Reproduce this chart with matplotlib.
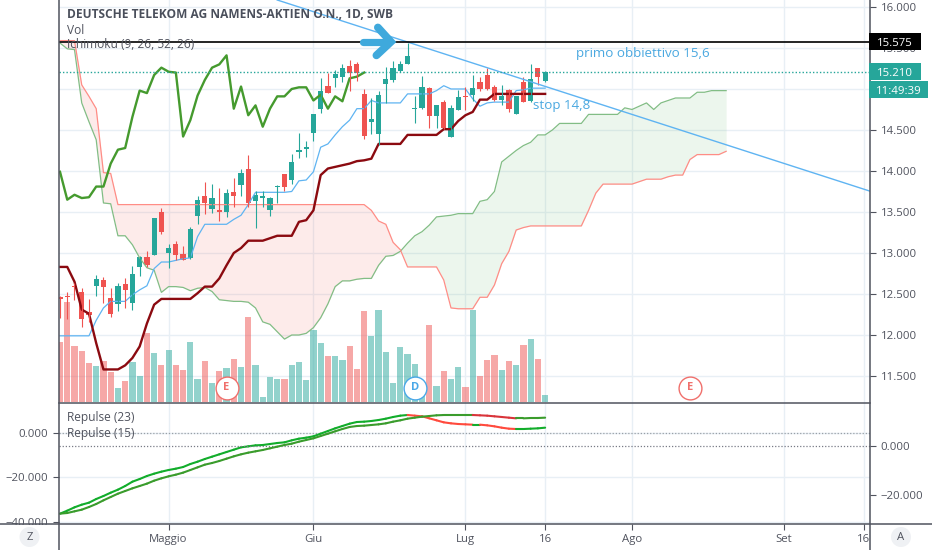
import matplotlib
matplotlib.use('Agg')
import matplotlib.pyplot as plt
from matplotlib.patches import Rectangle, Ellipse
from matplotlib.lines import Line2D

plt.rcParams['font.family'] = ['Open Sans', 'DejaVu Sans']

# daily candles
opens = [12.46, 12.48, 12.60, 12.52, 12.28, 12.60, 12.67, 12.45, 12.38, 12.62, 12.39, 12.83, 12.95, 12.98, 13.50, 13.00, 13.11,
         12.99, 12.94, 13.45, 13.69, 13.54, 13.52, 13.50, 13.74, 13.83, 14.02, 13.64, 13.67, 13.52, 13.80, 13.96, 13.89, 14.23,
         14.27, 14.46, 14.76, 15.04, 15.13, 15.14, 15.28, 15.30, 14.94, 14.60, 14.45, 15.06, 15.11, 15.22, 15.31, 14.75, 14.77,
         15.01, 14.67, 14.84, 14.42, 14.74, 14.91, 14.93, 15.08, 15.17, 15.02, 14.86, 14.99, 14.70, 15.09, 14.85, 15.25, 15.10]
highs = [12.47, 12.52, 12.63, 12.57, 12.44, 12.73, 12.71, 12.57, 12.63, 12.70, 12.84, 12.96, 13.03, 13.43, 13.55, 13.11, 13.15,
         13.09, 13.32, 13.70, 13.86, 13.84, 13.79, 13.78, 13.92, 14.02, 14.19, 13.75, 13.75, 13.68, 13.83, 13.96, 14.21, 14.46,
         14.36, 14.69, 15.13, 15.20, 15.23, 15.31, 15.35, 15.33, 15.00, 14.89, 14.97, 15.27, 15.34, 15.34, 15.56, 14.91, 15.16,
         15.02, 14.80, 14.87, 14.80, 14.99, 15.03, 15.17, 15.14, 15.25, 15.05, 15.05, 15.00, 14.91, 15.15, 15.31, 15.26, 15.22]
lows = [12.21, 12.19, 12.43, 12.10, 12.16, 12.47, 12.39, 12.22, 12.29, 12.33, 12.31, 12.72, 12.83, 12.98, 13.23, 12.82, 12.92,
        12.91, 12.93, 13.35, 13.48, 13.49, 13.39, 13.44, 13.56, 13.69, 13.56, 13.30, 13.56, 13.45, 13.61, 13.76, 13.84, 14.16,
        14.17, 14.37, 14.71, 14.95, 15.03, 15.08, 14.98, 15.10, 14.39, 14.45, 14.32, 14.83, 15.09, 15.21, 15.31, 14.58, 14.76,
        14.52, 14.52, 14.51, 14.41, 14.74, 14.74, 14.85, 14.97, 14.99, 14.85, 14.80, 14.72, 14.70, 14.84, 14.84, 15.05, 15.09]
closes = [12.44, 12.46, 12.58, 12.20, 12.24, 12.68, 12.58, 12.26, 12.60, 12.55, 12.74, 12.95, 12.85, 13.43, 13.26, 13.06, 12.97,
          12.91, 13.29, 13.65, 13.61, 13.67, 13.50, 13.73, 13.70, 13.97, 13.61, 13.71, 13.68, 13.67, 13.81, 13.80, 14.11, 14.26,
          14.28, 14.69, 14.98, 14.95, 15.18, 15.26, 15.20, 15.20, 14.43, 14.63, 14.93, 15.12, 15.26, 15.30, 15.40, 14.77, 15.02,
          14.67, 14.80, 14.53, 14.77, 14.90, 14.90, 15.01, 15.00, 15.00, 14.86, 14.91, 14.76, 14.91, 14.84, 15.12, 15.14, 15.21]
volumes = [60, 100, 56, 51, 39, 36, 41, 30, 14, 21, 40, 26, 69, 49, 37, 52, 37, 32, 60, 23, 41, 19, 31, 34, 43, 35, 85, 37, 5,
           25, 23, 23, 37, 40, 22, 72, 59, 46, 46, 42, 56, 33, 91, 66, 92, 50, 19, 55, 48, 38, 10, 77, 16, 31, 23, 35, 15, 92,
           26, 42, 47, 32, 41, 37, 57, 63, 43, 7]

# ichimoku
tenkan = [11.99, 11.99, 11.99, 11.99, 11.99, 12.18, 12.33, 12.41, 12.41, 12.41, 12.49, 12.55, 12.60, 12.81, 12.89, 12.89, 12.91,
          12.93, 12.94, 13.20, 13.35, 13.35, 13.35, 13.35, 13.41, 13.46, 13.59, 13.74, 13.74, 13.74, 13.74, 13.74, 13.75, 13.88,
          13.89, 13.99, 14.29, 14.33, 14.44, 14.54, 14.62, 14.76, 14.76, 14.86, 14.83, 14.83, 14.83, 14.83, 14.94, 14.94, 14.94,
          14.94, 14.98, 15.04, 15.00, 15.00, 15.00, 14.88, 14.79, 14.83, 14.84, 14.84, 14.84, 14.98, 14.99, 15.01, 15.01, 15.01]
kijun = [12.83, 12.83, 12.65, 12.31, 12.26, 11.90, 11.58, 11.58, 11.58, 11.63, 11.72, 11.86, 12.14, 12.37, 12.44, 12.44, 12.44,
         12.44, 12.44, 12.51, 12.59, 12.59, 12.69, 12.85, 13.00, 13.06, 13.15, 13.15, 13.15, 13.18, 13.21, 13.21, 13.21, 13.38,
         13.40, 13.52, 13.95, 14.03, 14.05, 14.07, 14.09, 14.12, 14.13, 14.15, 14.33, 14.33, 14.33, 14.33, 14.44, 14.44, 14.44,
         14.44, 14.44, 14.51, 14.51, 14.61, 14.68, 14.72, 14.87, 14.87, 14.94, 14.94, 14.94, 14.94, 14.94, 14.94, 14.94, 14.94]
chikou = [13.99, 13.65, 13.71, 13.67, 13.68, 13.81, 13.81, 14.09, 14.26, 14.28, 14.66, 14.98, 14.95, 15.17, 15.26, 15.21, 15.20,
          14.42, 14.62, 14.92, 15.11, 15.26, 15.30, 15.41, 14.76, 15.03, 14.68, 14.80, 14.54, 14.76, 14.91, 14.91, 15.00, 15.02,
          15.02, 14.86, 14.93, 14.76, 14.91, 14.85, 15.13, 15.15, 15.20]
senkou_a = [15.56, 15.49, 15.48, 14.83, 14.60, 14.38, 13.61, 13.60, 13.21, 13.21, 13.10, 12.94, 12.82, 12.79, 12.52, 12.59, 12.59,
            12.58, 12.54, 12.57, 12.58, 12.53, 12.43, 12.42, 12.41, 12.41, 12.40, 12.33, 12.16, 12.13, 12.04, 11.95, 12.00, 12.00,
            12.02, 12.09, 12.21, 12.38, 12.59, 12.66, 12.66, 12.68, 12.69, 12.69, 12.85, 12.96, 12.97, 13.02, 13.12, 13.21, 13.26,
            13.34, 13.44, 13.45, 13.46, 13.48, 13.48, 13.48, 13.63, 13.65, 13.75, 14.11, 14.18, 14.25, 14.31, 14.35, 14.44, 14.44,
            14.50, 14.58, 14.58, 14.58, 14.58, 14.69, 14.69, 14.69, 14.69, 14.69, 14.77, 14.75, 14.79, 14.83, 14.75, 14.83, 14.86,
            14.89, 14.89, 14.89, 14.96, 14.96, 14.98, 14.98, 14.98]
senkou_b = [15.59, 15.59, 15.59, 15.05, 14.91, 14.76, 13.98, 13.97, 13.59, 13.59, 13.59, 13.59, 13.59, 13.59, 13.59, 13.59, 13.59,
            13.59, 13.59, 13.59, 13.59, 13.59, 13.59, 13.59, 13.59, 13.59, 13.59, 13.59, 13.59, 13.59, 13.59, 13.59, 13.59, 13.59,
            13.59, 13.59, 13.59, 13.59, 13.59, 13.59, 13.59, 13.59, 13.59, 13.52, 13.39, 13.35, 13.13, 13.04, 12.83, 12.83, 12.83,
            12.83, 12.83, 12.67, 12.33, 12.32, 12.32, 12.32, 12.46, 12.46, 12.61, 12.87, 13.02, 13.28, 13.31, 13.33, 13.33, 13.33,
            13.33, 13.33, 13.33, 13.33, 13.33, 13.52, 13.73, 13.84, 13.84, 13.84, 13.84, 13.84, 13.87, 13.90, 13.90, 13.90, 13.93,
            13.95, 13.95, 14.14, 14.20, 14.20, 14.20, 14.20, 14.24]

# lower pane
repulse_23 = [-36.39, -35.04, -33.54, -32.34, -31.45, -29.80, -28.45, -26.95, -25.60, -23.95, -22.01, -20.81, -19.46, -18.41,
              -17.51, -16.76, -16.16, -15.42, -14.07, -13.02, -11.82, -10.77, -9.72, -8.67, -7.63, -6.58, -6.13, -5.68, -5.53,
              -5.08, -4.63, -4.33, -3.43, -2.68, -2.23, -1.63, -0.43, 0.76, 1.96, 3.01, 4.06, 4.81, 4.96, 5.26, 5.71, 6.31, 7.06,
              7.66, 7.96, 7.66, 7.36, 6.46, 5.56, 4.66, 4.21, 3.91, 3.76, 3.61, 3.61, 3.31, 2.86, 2.26, 1.81, 1.66, 1.66, 1.81,
              1.96, 2.26]
repulse_15 = [-27.62, -27.35, -26.67, -25.99, -24.90, -23.67, -22.18, -20.82, -19.46, -18.37, -17.28, -16.33, -15.37, -14.15,
              -13.20, -12.38, -11.70, -10.88, -9.80, -8.71, -7.62, -6.94, -6.12, -5.17, -4.22, -3.40, -2.72, -2.18, -1.63, -0.95,
              -0.27, 0.41, 0.95, 1.77, 2.45, 3.13, 4.08, 5.03, 5.99, 6.94, 7.76, 8.16, 8.30, 8.57, 8.84, 9.25, 9.93, 10.48, 11.16,
              11.56, 11.97, 12.24, 12.52, 12.65, 12.65, 12.65, 12.65, 12.65, 12.52, 12.38, 12.11, 11.84, 11.56, 11.29, 11.29, 11.43,
              11.43, 11.56]

price_ticks = [16.0, 15.5, 15.0, 14.5, 14.0, 13.5, 13.0, 12.5, 12.0, 11.5]
price_tick_labels = ['16.000', '15.500', '', '14.500', '14.000', '13.500', '13.000', '12.500', '12.000', '11.500']
month_ticks = [15, 35, 56, 67, 79, 100, 111]
month_labels = ['Maggio', 'Giu', 'Lug', '16', 'Ago', 'Set', '16']
earnings = [(23, 'E', '#f0706c'), (49, 'D', '#4aa8e8'), (87, 'E', '#f0706c')]

trend_x = [30, 111.8]
trend_y = [16.085, 13.756]

GREEN = '#26a69a'
RED = '#ef5350'
GRID = '#e8eff5'
AXIS = '#50535e'
TEXT = '#50535e'
BLUE = '#4aa8e0'

W, H = 932, 550
XLIM = (-0.14, 111.8)

fig = plt.figure(figsize=(W / 100, H / 100), dpi=100)


def box(l, t, r, b):
    return [l / W, 1 - b / H, (r - l) / W, (b - t) / H]


# three layers so the volume sits over the grid and under the candles
ax = fig.add_axes(box(59, 0, 869.5, 402))
ax_vol = ax.twinx()
ax_price = ax.twinx()
ax.set_zorder(1)
ax_vol.set_zorder(2)
ax_price.set_zorder(3)
ax_vol.patch.set_visible(False)
ax_price.patch.set_visible(False)

for a in (ax, ax_price):
    a.set_xlim(*XLIM)
    a.set_ylim(11.183, 16.085)
ax_vol.set_ylim(0, 402)
ax_vol.set_yticks([])
ax_price.set_yticks([])

ax.set_yticks(price_ticks)
ax.set_yticklabels(price_tick_labels)
ax.yaxis.tick_right()
ax.tick_params(axis='y', length=4, width=0.8, color=AXIS, labelcolor=TEXT, labelsize=8.2, pad=4)
ax.set_xticks(month_ticks)
ax.tick_params(axis='x', length=0, labelbottom=False)
ax.grid(True, color=GRID, lw=1)
ax.set_axisbelow(True)

for a in (ax, ax_vol, ax_price):
    for s in a.spines.values():
        s.set_visible(False)

# cloud
xs = list(range(len(senkou_a)))
ax.fill_between(xs, senkou_a, senkou_b, where=[p >= q for p, q in zip(senkou_a, senkou_b)],
                interpolate=True, color='#4caf50', alpha=0.1, lw=0)
ax.fill_between(xs, senkou_a, senkou_b, where=[p <= q for p, q in zip(senkou_a, senkou_b)],
                interpolate=True, color='#f44336', alpha=0.1, lw=0)

# volume
days = list(range(len(closes)))
vol_colors = []
for i in days:
    vol_colors.append(GREEN if closes[i] >= opens[i] else RED)
ax_vol.bar(days, volumes, width=0.86, color=vol_colors, alpha=0.5, lw=0)

# ichimoku lines
ax_price.plot(xs, senkou_a, color='#82bd85', lw=0.9)
ax_price.plot(xs, senkou_b, color='#ff8d86', lw=0.9)
ax_price.plot(days, tenkan, color='#5fb4f2', lw=0.9)
ax_price.plot(days, kijun, color='#8b0a10', lw=1.7)
ax_price.plot(range(len(chikou)), chikou, color='#459a2e', lw=1.7)

# candles
ax_price.vlines(days, lows, highs, colors=vol_colors, lw=0.8)
ax_price.bar(days, [max(abs(c - o), 0.02) for o, c in zip(opens, closes)],
             bottom=[min(o, c) for o, c in zip(opens, closes)], width=0.72, color=vol_colors, lw=0)

# drawings
ax_price.plot(trend_x, trend_y, color='#5fb4f2', lw=1)
ax_price.axhline(15.575, color='black', lw=1.2)
ax_price.axhline(15.21, color=GREEN, lw=1, ls=(0, (1, 1.5)))
ax_price.plot([41.8, 45.5], [15.575, 15.575], color='#3fa9dc', lw=5.2, solid_capstyle='round')
ax_price.plot([43.9, 45.7, 43.7], [15.75, 15.575, 15.41], color='#3fa9dc', lw=5.6,
              solid_capstyle='round', solid_joinstyle='miter')

ax_price.text(71.2, 15.43, 'primo obbiettivo 15,6', color=BLUE, fontsize=9.6, ha='left', va='center')
ax_price.text(65.3, 14.80, 'stop 14,8', color=BLUE, fontsize=9.6, ha='left', va='center')

# earnings badges
for pos, letter, col in earnings:
    ax_price.scatter([pos], [0.035], transform=ax_price.get_xaxis_transform(), s=270, facecolor='white',
                     edgecolor=col, lw=1, zorder=6, clip_on=False)
    ax_price.text(pos, 0.035, letter, transform=ax_price.get_xaxis_transform(), color=col, fontsize=8,
                  fontweight='bold', ha='center', va='center', zorder=7)

# titles
fig.text(67 / W, 1 - 15 / H, 'DEUTSCHE TELEKOM AG NAMENS-AKTIEN O.N., 1D, SWB', color='#4a4f5b', fontsize=8.6,
         fontweight='bold', va='center', zorder=9)
fig.text(67 / W, 1 - 30 / H, 'Vol', color=TEXT, fontsize=8.6, va='center', zorder=9)
fig.text(67 / W, 1 - 45 / H, 'Ichimoku (9, 26, 52, 26)', color=TEXT, fontsize=8.6, va='center', zorder=9)
fig.text(67 / W, 1 - 417 / H, 'Repulse (23)', color=TEXT, fontsize=8.6, va='center', zorder=9)
fig.text(67 / W, 1 - 433 / H, 'Repulse (15)', color=TEXT, fontsize=8.6, va='center', zorder=9)


def price_label(price, label, color, width, offset=0):
    yfig = fig.transFigure.inverted().transform(ax_price.transData.transform((0, price)))[1] - offset / H
    fig.add_artist(Rectangle((869 / W, yfig - 8.5 / H), width / W, 17.5 / H, transform=fig.transFigure,
                             fc=color, ec='none', zorder=8))
    fig.text((869 + width / 2) / W, yfig, label, color='white', fontsize=8.2, ha='center', va='center_baseline', zorder=9)


price_label(15.575, '15.575', 'black', 52)
price_label(15.21, '15.210', GREEN, 52)
price_label(15.21, '11:49:39', GREEN, 59, offset=18)

# lower pane, two scales
low = fig.add_axes(box(59, 402, 869.5, 524))
low_r = low.twinx()
low.set_xlim(*XLIM)
low.set_ylim(-41.03, 13.80)
low_r.set_ylim(-31.84, 17.96)
low.set_zorder(1)
low_r.set_zorder(2)
low_r.patch.set_visible(False)

low.set_yticks([0, -20, -40])
low.set_yticklabels(['0.000', '\u221220.000', '\u221240.000'])
low_r.set_yticks([0, -20])
low_r.set_yticklabels(['0.000', '\u221220.000'])
low.tick_params(axis='y', length=4, width=0.8, color=AXIS, labelcolor=TEXT, labelsize=8.2, pad=4)
low_r.tick_params(axis='y', length=4, width=0.8, color=AXIS, labelcolor=TEXT, labelsize=8.2, pad=4)
low.set_xticks(month_ticks)
low.set_xticklabels(month_labels)
low.tick_params(axis='x', length=4, width=0.8, color=AXIS, labelcolor=TEXT, labelsize=8.2, pad=3)
low.grid(True, color=GRID, lw=1)
low.set_axisbelow(True)

low.axhline(0, color='#9aa0a6', lw=0.9, ls=(0, (1, 1.5)))
low_r.axhline(0, color='#787b86', lw=0.9, ls=(0, (1, 1.5)))

for i in range(len(repulse_23) - 1):
    col = '#12ad2b' if repulse_23[i + 1] >= repulse_23[i] else '#ff4a3d'
    low.plot([i, i + 1], [repulse_23[i], repulse_23[i + 1]], color=col, lw=1.5, solid_capstyle='round')
    col = '#3a9c2c' if repulse_15[i + 1] >= repulse_15[i] else '#d9343a'
    low_r.plot([i, i + 1], [repulse_15[i], repulse_15[i + 1]], color=col, lw=1.5, solid_capstyle='round')

for a in (low, low_r):
    for s in a.spines.values():
        s.set_visible(False)

# frame lines
frame = [((58.5, 58.5), (0, 550)), ((869.5, 869.5), (0, 550)), ((58.5, 869.5), (402.5, 402.5)), ((0, 932), (524, 524))]
for fx, fy in frame:
    fig.add_artist(Line2D([v / W for v in fx], [1 - v / H for v in fy], color=AXIS, lw=1.1, zorder=7))

# the -40 label is cut by the bottom line
fig.add_artist(Rectangle((0, 1 - 532 / H), 58 / W, 7.5 / H, transform=fig.transFigure, fc='white', ec='none', zorder=6))

# corner buttons
for cx, letter in ((29.5, 'Z'), (901, 'A')):
    fig.add_artist(Ellipse((cx / W, 1 - 537 / H), 20 / W, 20 / H, transform=fig.transFigure, fc='#eff1f4', ec='none', zorder=7))
    fig.text(cx / W, 1 - 537 / H, letter, color=TEXT, fontsize=8.2, ha='center', va='center', zorder=8)

fig.savefig('out.png', dpi=100)
